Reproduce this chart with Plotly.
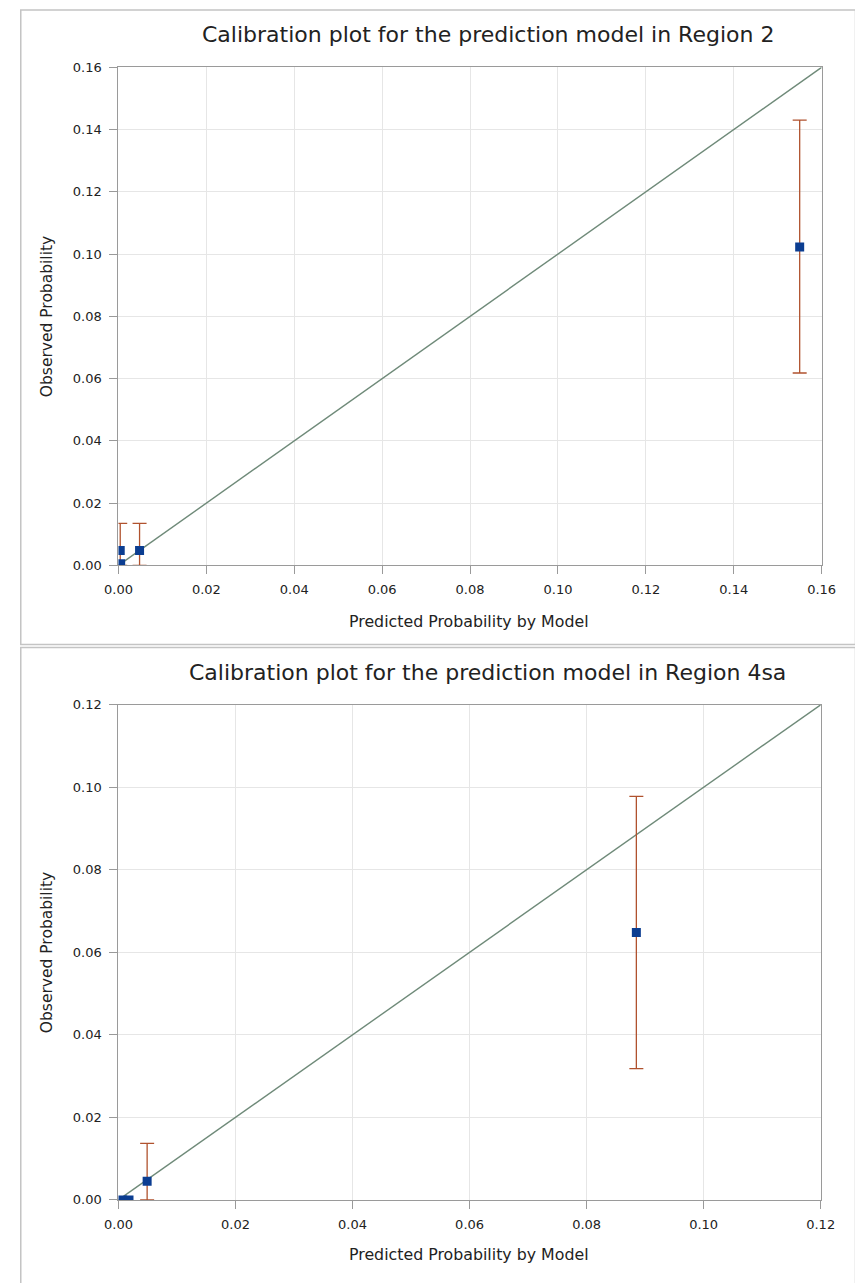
import plotly.graph_objects as go

W, H = 855, 1283

# ---- data: Region 2 ----
r2_pred_bar = [0.0004, 0.0048, 0.1550]
r2_obs_bar = [0.0048, 0.0048, 0.1023]
r2_lower = [0.0, 0.0, 0.0618]
r2_upper = [0.0135, 0.0135, 0.1430]
r2_pred_pt = [0.0005]
r2_obs_pt = [0.0005]
r2_diag = [0.0, 0.16]
r2_ticks = [0.00, 0.02, 0.04, 0.06, 0.08, 0.10, 0.12, 0.14, 0.16]

# ---- data: Region 4sa ----
r4_pred_bar = [0.0049, 0.0885]
r4_obs_bar = [0.0045, 0.0648]
r4_lower = [0.0, 0.0318]
r4_upper = [0.0137, 0.0978]
r4_pred_pt = [0.0007, 0.0018]
r4_obs_pt = [0.0, 0.0]
r4_diag = [0.0, 0.12]
r4_ticks = [0.00, 0.02, 0.04, 0.06, 0.08, 0.10, 0.12]

titles = ["Calibration plot for the prediction model in Region 2",
          "Calibration plot for the prediction model in Region 4sa"]
xlab = "Predicted Probability by Model"
ylab = "Observed Probability"

FONT = "DejaVu Sans"
TXT = "#222222"
MARK = "#0b3d91"
ERR = "#b0522e"
DIAG = "#6f8a79"
GRID = "#e6e6e6"
AX = "#9a9a9a"

fig = go.Figure()


def px_x(p):
    return p / W


def px_y(p):
    return 1 - p / H


panels = [
    dict(xa="x", ya="y", xdom=(108, 835), ydom=(61, 565), rng=0.16, ticks=r2_ticks,
         pb=r2_pred_bar, ob=r2_obs_bar, lo=r2_lower, up=r2_upper,
         pp=r2_pred_pt, op=r2_obs_pt, diag=r2_diag, frame=(7, 3, 870, 645),
         title_y=28, xlab_y=622, title=titles[0]),
    dict(xa="x2", ya="y2", xdom=(108, 834), ydom=(706, 1207), rng=0.12, ticks=r4_ticks,
         pb=r4_pred_bar, ob=r4_obs_bar, lo=r4_lower, up=r4_upper,
         pp=r4_pred_pt, op=r4_obs_pt, diag=r4_diag, frame=(7, 648, 870, 1300),
         title_y=673, xlab_y=1262, title=titles[1]),
]

layout_axes = {}
for i, p in enumerate(panels):
    # diagonal reference line
    fig.add_trace(go.Scatter(x=p["diag"], y=p["diag"], mode="lines",
                             line=dict(color=DIAG, width=1.4),
                             xaxis=p["xa"], yaxis=p["ya"], showlegend=False,
                             hoverinfo="skip"))
    # points with error bars
    plus = [u - o for u, o in zip(p["up"], p["ob"])]
    minus = [o - l for o, l in zip(p["ob"], p["lo"])]
    fig.add_trace(go.Scatter(x=p["pb"], y=p["ob"], mode="markers",
                             marker=dict(symbol="square", size=9, color=MARK),
                             error_y=dict(type="data", symmetric=False, array=plus,
                                          arrayminus=minus, color=ERR,
                                          thickness=1.3, width=7),
                             cliponaxis=True,
                             xaxis=p["xa"], yaxis=p["ya"], showlegend=False))
    # points without visible error bars
    fig.add_trace(go.Scatter(x=p["pp"], y=p["op"], mode="markers",
                             marker=dict(symbol="square", size=9, color=MARK),
                             cliponaxis=True,
                             xaxis=p["xa"], yaxis=p["ya"], showlegend=False))

    sfx = "" if i == 0 else "2"
    ax_common = dict(showgrid=True, gridcolor=GRID, gridwidth=1,
                     showline=True, linecolor=AX, linewidth=1.2, mirror=True,
                     ticks="outside", ticklen=8, tickcolor=AX, tickwidth=1,
                     zeroline=False, tickformat=".2f",
                     tickvals=p["ticks"], range=[0, p["rng"]],
                     tickfont=dict(family=FONT, size=13, color=TXT))
    layout_axes["xaxis" + sfx] = dict(ax_common, ticklabelstandoff=4,
                                      domain=[px_x(p["xdom"][0]), px_x(p["xdom"][1])],
                                      anchor="y" + sfx)
    layout_axes["yaxis" + sfx] = dict(ax_common, ticklabelstandoff=5,
                                      domain=[px_y(p["ydom"][1]), px_y(p["ydom"][0])],
                                      anchor="x" + sfx)

annotations = []
shapes = []
for p in panels:
    annotations.append(dict(text=p["title"], x=px_x(490), y=px_y(p["title_y"]),
                            xref="paper", yref="paper", showarrow=False,
                            xanchor="center", yanchor="middle",
                            font=dict(family=FONT, size=22, color=TXT)))
    annotations.append(dict(text=xlab, x=px_x(470), y=px_y(p["xlab_y"]),
                            xref="paper", yref="paper", showarrow=False,
                            xanchor="center", yanchor="middle",
                            font=dict(family=FONT, size=15.8, color=TXT)))
    annotations.append(dict(text=ylab, x=px_x(34), y=px_y((p["ydom"][0] + p["ydom"][1]) / 2),
                            xref="paper", yref="paper", showarrow=False, textangle=-90,
                            xanchor="center", yanchor="middle",
                            font=dict(family=FONT, size=15.5, color=TXT)))
    x0, y0, x1, y1 = p["frame"]
    shapes.append(dict(type="rect", xref="paper", yref="paper",
                       x0=px_x(x0), x1=px_x(x1), y0=px_y(y1), y1=px_y(y0),
                       line=dict(color="#c4c4c4", width=1.5), fillcolor="rgba(0,0,0,0)"))

fig.update_layout(width=W, height=H, margin=dict(l=0, r=0, t=0, b=0),
                  paper_bgcolor="white", plot_bgcolor="white",
                  annotations=annotations, shapes=shapes, showlegend=False,
                  **layout_axes)

fig.write_html("out.html",
               config={"displayModeBar": False},
               post_script="document.body.style.margin='0px';"
                           "document.body.style.overflow='hidden';")
